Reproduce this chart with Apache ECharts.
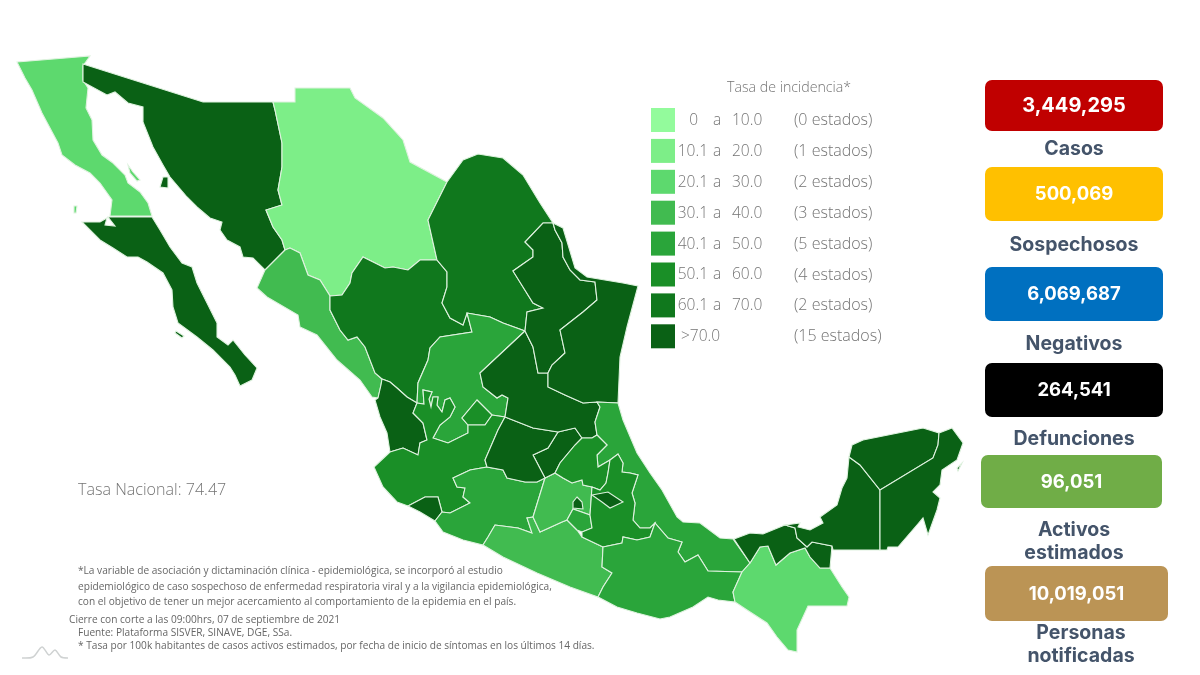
<!DOCTYPE html>
<html>
<head>
<meta charset="utf-8">
<style>html,body{margin:0;background:#fff}#main{width:1200px;height:675px}</style>
<script src="https://cdn.jsdelivr.net/npm/echarts@6/dist/echarts.min.js"></script>
</head>
<body>
<div id="main"></div>
<script>
// estimated rate per state: only the colour band can be read from the picture
var stateNames = ['Baja California','Baja California Sur','Sonora','Chihuahua','Sinaloa','Durango','Coahuila','Zacatecas','Aguascalientes','Nayarit','Jalisco','Colima','Michoacan','Guerrero','Mexico','Morelos','Queretaro','Guanajuato','San Luis Potosi','Nuevo Leon','Tamaulipas','Veracruz','Hidalgo','Puebla','Tlaxcala','Ciudad de Mexico','Oaxaca','Chiapas','Tabasco','Campeche','Yucatan','Quintana Roo'];
var stateRates = [26,85,88,16,36,66,64,46,55,78,56,82,45,35,37,44,75,80,90,84,86,47,54,53,76,110,43,24,95,79,120,130];
var rangeLow = ['0','10.1','20.1','30.1','40.1','50.1','60.1','>70.0'];
var rangeHigh = ['10.0','20.0','30.0','40.0','50.0','60.0','70.0',''];
var rangeCounts = ['(0 estados)','(1 estados)','(2 estados)','(3 estados)','(5 estados)','(4 estados)','(2 estados)','(15 estados)'];
var rangeMins = [0,10.05,20.05,30.05,40.05,50.05,60.05,70.05];
var rangeMaxs = [10.05,20.05,30.05,40.05,50.05,60.05,70.05,1000];
var rangeColors = ['#93fb9c','#7dee88','#5dd96e','#41bb50','#2aa53a','#1a8f27','#10781d','#0a6115'];
var kpiValues = ['3,449,295','500,069','6,069,687','264,541','96,051','10,019,051'];
var kpiLabels = [['Casos'],['Sospechosos'],['Negativos'],['Defunciones'],['Activos','estimados'],['Personas','notificadas']];
var kpiColors = ['#c00000','#ffc000','#0070c0','#000000','#70ad47','#bb9455'];
var nationalRate = 'Tasa Nacional: 74.47';
var legendTitle = 'Tasa de incidencia*';
var footNotes = [
	'*La variable de asociación y dictaminación clínica - epidemiológica, se incorporó al estudio',
	'epidemiológico de caso sospechoso de enfermedad respiratoria viral y a la vigilancia epidemiológica,',
	'con el objetivo de tener un mejor acercamiento al comportamiento de la epidemia en el país.',
	'Cierre con corte a las 09:00hrs, 07 de septiembre de 2021',
	'Fuente: Plataforma SISVER, SINAVE, DGE, SSa.',
	'* Tasa por 100k habitantes de casos activos estimados, por fecha de inicio de síntomas en los últimos 14 días.'
];

// base map outlines, traced by hand, x y pairs on the 1200x675 page
var stateShapes = {
	'Baja California': [[17,62,90,56,83,66,83,80,88,88,86,108,92,120,93,140,102,155,113,163,125,175,128,183,140,192,148,203,152,216,110,216,112,200,100,183,90,173,75,165,62,155,58,143,50,128,42,113,32,90,25,78],[128,165,133,172,140,180,137,181,130,173],[74,206,77,206,76,213,74,213]],
	'Baja California Sur': [[82,222,100,222,107,218,105,225,115,226,108,217,152,217,160,230,170,247,182,263,192,267,197,283,207,303,217,323,217,337,228,345,233,340,245,355,257,368,252,380,240,386,235,375,230,367,213,350,197,337,178,323,173,307,172,290,163,273,147,262,138,257,127,257,113,248,100,240,90,230],[176,331,184,336,182,338,175,333]],
	'Sonora': [[83,64,203,102,273,102,275,110,282,143,282,167,278,190,282,205,266,210,273,227,282,240,285,250,265,270,253,258,243,257,240,247,227,240,220,230,222,222,210,218,197,207,187,197,170,177,163,165,153,147,143,122,143,107,128,103,115,92,107,95,83,82],[160,187,163,177,168,177,168,188]],
	'Chihuahua': [[285,250,282,240,273,227,266,210,282,205,278,190,282,167,282,143,275,110,273,102,295,102,295,88,350,88,355,98,383,118,403,140,410,162,447,182,428,220,437,260,420,260,408,270,393,267,385,268,363,257,352,273,350,283,342,295,330,296,320,280,308,275,300,253,290,248]],
	'Sinaloa': [[290,248,285,250,265,270,257,288,267,297,298,315,300,327,317,335,337,360,360,380,372,397,378,398,381,385,382,379,375,373,365,347,357,337,348,340,340,330,330,310,330,296,320,280,308,275,300,253]],
	'Durango': [[330,296,342,295,350,283,352,273,363,257,385,268,393,267,408,270,420,260,437,260,447,272,447,287,442,303,450,318,463,325,467,313,472,332,440,337,430,348,428,360,418,383,417,403,407,397,397,388,390,382,382,379,375,373,365,347,357,337,348,340,340,330,330,310]],
	'Coahuila': [[447,182,463,160,478,154,503,158,523,175,540,203,553,223,543,223,525,242,533,250,533,257,513,271,523,287,533,303,543,308,527,312,525,331,503,323,490,317,467,313,463,325,450,318,442,303,447,287,447,272,437,260,428,220]],
	'Zacatecas': [[467,313,490,317,503,323,525,331,480,373,483,387,497,398,502,395,508,398,505,417,492,415,477,400,462,418,468,425,468,433,448,443,433,438,440,425,450,417,455,407,450,398,445,400,442,412,437,405,438,397,433,397,431,407,429,399,432,392,423,390,424,404,417,403,418,383,428,360,430,348,440,337,472,332]],
	'Aguascalientes': [[477,400,492,415,485,425,468,425,462,418]],
	'Nayarit': [[382,379,390,382,397,388,407,397,417,403,413,413,423,423,427,440,420,443,418,455,403,448,390,452,387,433,380,417,375,400,378,398,381,385]],
	'Jalisco': [[374,467,390,452,403,448,418,455,420,443,427,440,423,423,413,413,417,403,424,404,423,390,432,392,429,399,431,407,433,397,438,397,437,405,442,412,445,400,450,398,455,407,450,417,440,425,433,438,448,443,468,433,468,425,485,425,492,415,505,417,498,430,485,460,487,467,470,470,453,478,457,487,465,488,463,497,470,503,450,513,442,512,438,497,425,497,408,506,397,502,383,487]],
	'Colima': [[408,506,425,497,438,497,442,512,435,521,420,512]],
	'Michoacan': [[435,521,442,512,450,513,470,503,463,497,465,488,457,487,453,478,470,470,487,467,503,470,507,478,525,482,537,482,545,478,533,517,527,518,532,533,518,528,495,525,488,537,483,545,463,540,443,532]],
	'Guerrero': [[483,545,488,537,495,525,518,528,532,533,527,518,533,517,540,532,562,522,567,520,577,530,582,537,603,547,602,567,612,573,603,587,598,597,570,587,537,573,503,557]],
	'Mexico': [[545,478,555,473,563,478,572,483,582,480,583,485,592,487,590,515,573,509,567,520,562,522,540,532,533,517]],
	'Morelos': [[573,509,590,515,592,528,582,532,577,530,567,520]],
	'Queretaro': [[533,455,548,448,558,432,575,428,582,438,575,445,560,463,555,473,545,478]],
	'Guanajuato': [[505,417,533,428,558,432,548,448,533,455,545,478,537,482,525,482,507,478,503,470,487,467,485,460,498,430]],
	'San Luis Potosi': [[525,331,533,347,538,373,548,373,548,387,565,395,583,403,597,402,600,407,595,422,597,435,592,438,582,438,575,428,558,432,533,428,505,417,508,398,502,395,497,398,483,387,480,373]],
	'Nuevo Leon': [[543,223,553,223,555,230,562,243,563,257,570,270,580,280,595,282,597,300,583,312,560,330,565,353,552,365,548,373,538,373,533,347,525,331,527,312,543,308,533,303,523,287,513,271,533,257,533,250,525,242]],
	'Tamaulipas': [[553,223,563,228,575,268,587,277,623,283,638,286,627,327,620,357,618,403,597,402,583,403,565,395,548,387,548,373,552,365,565,353,560,330,583,312,597,300,595,282,580,280,570,270,563,257,562,243,555,230]],
	'Veracruz': [[597,402,618,403,623,420,637,453,650,473,662,490,677,517,683,522,700,523,720,538,733,539,750,563,742,572,708,571,698,555,685,562,678,552,682,542,668,538,655,523,650,528,640,528,633,520,635,503,632,493,638,475,630,473,622,472,623,463,618,454,610,460,598,467,597,455,607,445,597,435,595,422,600,407]],
	'Hidalgo': [[555,473,560,463,575,445,582,438,592,438,597,435,607,445,597,455,598,467,610,460,608,473,606,483,600,490,592,487,583,485,582,480,572,483,563,478]],
	'Puebla': [[610,460,618,454,623,463,622,472,630,473,638,475,632,493,635,503,633,520,640,528,650,528,655,523,650,537,637,540,623,537,622,543,603,547,582,537,582,532,592,528,590,515,592,487,600,490,606,483,608,473]],
	'Tlaxcala': [[592,495,608,492,623,502,610,508,602,502]],
	'Ciudad de Mexico': [[577,497,582,502,583,509,573,508,573,502]],
	'Oaxaca': [[603,547,622,543,623,537,637,540,650,537,655,523,668,538,682,542,678,552,685,562,698,555,708,571,742,572,733,592,735,602,718,600,708,597,693,607,670,617,660,619,637,613,617,607,598,597,603,587,612,573,602,567]],
	'Chiapas': [[750,563,760,547,768,546,776,565,790,553,805,548,810,557,820,568,830,568,842,587,849,597,847,606,808,606,797,630,797,652,788,650,777,637,767,623,747,610,735,602,733,592,742,572]],
	'Tabasco': [[734,539,750,533,763,534,780,527,785,525,795,528,797,538,807,547,812,542,832,546,830,568,820,568,810,557,805,548,790,553,776,565,768,546,760,547,750,563]],
	'Campeche': [[785,525,800,523,798,527,810,530,823,523,820,517,837,505,842,488,847,478,849,457,860,465,880,490,880,550,833,550,832,546,812,542,807,547,797,538,795,528]],
	'Yucatan': [[849,457,852,445,863,440,903,432,923,428,939,433,938,445,933,458,880,490,860,465]],
	'Quintana Roo': [[939,433,952,428,963,443,957,460,942,470,940,485,933,492,940,498,937,510,928,535,923,518,917,525,898,547,888,547,887,550,880,550,880,490,933,458,938,445],[957,468,962,463,958,471]]
};

// geojson latitude runs upward, so the y values get flipped here
function toRing(flat) {
	var ring = []
	for (var i = 0; i < flat.length; i += 2) {
		ring.push([flat[i], -flat[i + 1]])
	}
	ring.push(ring[0])
	return ring
}
var mexicoGeo = {
	type: 'FeatureCollection',
	features: stateNames.map(function (name) {
		return {
			type: 'Feature',
			properties: { name: name },
			geometry: {
				type: 'MultiPolygon',
				coordinates: stateShapes[name].map(function (flat) { return [toRing(flat)] })
			}
		}
	})
}
echarts.registerMap('mexico', mexicoGeo)

var grayText = '#747474'
var labelBlue = '#44546a'
var lightFont = '"Open Sans", sans-serif'
var boldFont = 'Inter, sans-serif'
var graphics = []

function addText(text, x, y, size, fill, family, weight, align) {
	graphics.push({
		type: 'text', silent: true, x: x, y: y,
		style: { text: text, fontSize: size, fontFamily: family, fontWeight: weight, fill: fill, textAlign: align || 'left', textVerticalAlign: 'middle' }
	})
}

// legend texts, the swatches come from the visualMap
addText(legendTitle, 727, 88, 14.2, grayText, lightFont, 300)
rangeLow.forEach(function (low, i) {
	var y = 120.5 + i * 30.9
	if (i === 7) {
		addText(low, 681, y, 15.5, grayText, lightFont, 300)
	} else {
		addText(low, i === 0 ? 698 : 708, y, 15.5, grayText, lightFont, 300, 'right')
		addText('a', 713, y, 15.5, grayText, lightFont, 300)
		addText(rangeHigh[i], 732, y, 15.5, grayText, lightFont, 300)
	}
	addText(rangeCounts[i], 794, y, 16, grayText, lightFont, 300)
})

addText(nationalRate, 78, 490, 16.1, grayText, lightFont, 300)
var noteX = [78, 78, 78, 69, 78, 78]
var noteY = [571, 587, 602, 620, 633, 646]
footNotes.forEach(function (note, i) {
	addText(note, noteX[i], noteY[i], 10.15, '#666666', lightFont, 400)
})

// small mountain logo bottom left
graphics.push({
	type: 'polyline', silent: true,
	shape: { points: [[22, 658], [33, 657], [42, 647], [49, 655], [55, 650], [61, 657], [68, 658]], smooth: 0.3 },
	style: { stroke: '#cfd2d2', fill: null, lineWidth: 1.5 }
})

var cardBox = [[985, 80, 178, 51], [985, 167, 178, 54], [985, 267, 178, 54], [985, 363, 178, 54], [981, 455, 181, 53], [985, 566, 183, 55]]
var valueSize = [20, 18.5, 18.5, 18.5, 18.5, 18.5]
var labelY = [[149], [245], [344], [439], [530, 553], [633, 656]]
var labelX = [1074, 1074, 1074, 1074, 1074, 1081]
kpiValues.forEach(function (value, i) {
	var b = cardBox[i]
	graphics.push({
		type: 'rect', silent: true,
		shape: { x: b[0], y: b[1], width: b[2], height: b[3], r: 7 },
		style: { fill: kpiColors[i] }
	})
	addText(value, b[0] + b[2] / 2, b[1] + b[3] / 2 + 0.5, valueSize[i], '#ffffff', boldFont, 700, 'center')
	kpiLabels[i].forEach(function (label, j) {
		addText(label, labelX[i], labelY[i][j], 19.5, labelBlue, boldFont, 700, 'center')
	})
})

var myChart = echarts.init(document.getElementById('main'))
myChart.setOption({
	animation: false,
	backgroundColor: '#ffffff',
	visualMap: {
		type: 'piecewise',
		seriesIndex: 0,
		left: 651,
		top: 108,
		padding: 0,
		orient: 'vertical',
		inverse: true,
		itemWidth: 24,
		itemHeight: 24,
		itemGap: 6.9,
		selectedMode: false,
		itemSymbol: 'rect',
		formatter: function () { return '' },
		pieces: rangeMins.map(function (min, i) {
			return { gte: min, lt: rangeMaxs[i], color: rangeColors[i] }
		})
	},
	series: [{
		type: 'map',
		map: 'mexico',
		silent: true,
		roam: false,
		aspectScale: 1,
		boundingCoords: [[0, 0], [1200, -675]],
		left: 0,
		top: 0,
		width: 1200,
		height: 675,
		label: { show: false },
		itemStyle: { borderColor: '#dff2df', borderWidth: 1.1 },
		emphasis: { disabled: true },
		select: { disabled: true },
		data: stateNames.map(function (name, i) {
			return { name: name, value: stateRates[i] }
		})
	}],
	graphic: graphics
})
</script>
</body>
</html>
